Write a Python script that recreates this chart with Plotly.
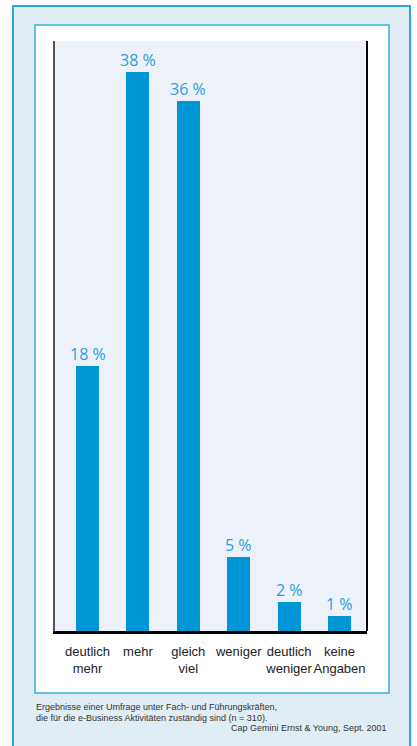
import plotly.graph_objects as go

categories = ["deutlich<br>mehr", "mehr", "gleich<br>viel", "weniger", "deutlich<br>weniger", "keine<br>Angaben"]
values = [18, 38, 36, 5, 2, 1]
value_labels = [f"{v} %" for v in values]
footnote_lines = [
    "Ergebnisse einer Umfrage unter Fach- und Führungskräften,",
    "die für die e-Business Aktivitäten zuständig sind (n = 310).",
]
source = "Cap Gemini Ernst & Young, Sept. 2001"

W, H = 417, 746
L, R, T, B = 55, 367, 41, 631


def X(px):
    return (px - L) / (R - L)


def Y(py):
    return (B - py) / (B - T)


fig = go.Figure(
    go.Bar(
        x=list(range(len(categories))),
        y=values,
        width=0.456,
        marker=dict(color="#0096d6", line=dict(width=0)),
        hoverinfo="skip",
    )
)

annotations = []
for i, (v, lab) in enumerate(zip(values, value_labels)):
    annotations.append(dict(
        x=i, y=v, xref="x", yref="y", text=lab, showarrow=False,
        xanchor="center", yanchor="bottom", yshift=-1,
        font=dict(family="Open Sans", size=16, color="#2a9edb")))

shapes = [
    # outer light-blue frame
    dict(type="rect", xref="paper", yref="paper", layer="below",
         x0=X(13), x1=X(410), y0=Y(775), y1=Y(6),
         fillcolor="#e1edf5", line=dict(color="#2aa6dc", width=2)),
    # inner white panel
    dict(type="rect", xref="paper", yref="paper", layer="below",
         x0=X(35), x1=X(389), y0=Y(693), y1=Y(25),
         fillcolor="#ffffff", line=dict(color="#3aaee0", width=1.5)),
    # plot area background
    dict(type="rect", xref="paper", yref="paper", layer="below",
         x0=0, x1=1, y0=0, y1=1,
         fillcolor="#edf2fa", line=dict(width=0)),
    # right border line of plot area
    dict(type="line", xref="paper", yref="paper", layer="above",
         x0=1, x1=1, y0=0, y1=1, line=dict(color="#000000", width=2)),
]

for i, line in enumerate(footnote_lines):
    annotations.append(dict(
        xref="paper", yref="paper", x=X(34), y=Y(707 + i * 11),
        xanchor="left", yanchor="middle", showarrow=False, text=line,
        font=dict(family="Liberation Sans", size=9, color="#333333")))
annotations.append(dict(
    xref="paper", yref="paper", x=X(389), y=Y(728),
    xanchor="right", yanchor="middle", showarrow=False, text=source,
    font=dict(family="Liberation Sans", size=9, color="#333333")))

fig.update_layout(
    width=W, height=H,
    margin=dict(l=L, r=W - R, t=T, b=H - B, pad=0),
    paper_bgcolor="#ffffff",
    plot_bgcolor="rgba(0,0,0,0)",
    showlegend=False,
    bargap=0,
    shapes=shapes,
    annotations=annotations,
    xaxis=dict(
        range=[-0.645, 5.545],
        tickmode="array",
        tickvals=list(range(len(categories))),
        ticktext=categories,
        tickangle=0,
        ticks="",
        ticklabelstandoff=6,
        showgrid=False,
        zeroline=False,
        showline=True,
        linecolor="#000000",
        linewidth=3,
        tickfont=dict(family="Liberation Sans", size=13, color="#222222"),
        fixedrange=True,
    ),
    yaxis=dict(
        range=[0, 40.1],
        showticklabels=False,
        ticks="",
        showgrid=False,
        zeroline=False,
        showline=True,
        linecolor="#555555",
        linewidth=2,
        fixedrange=True,
    ),
)

fig.write_html("out.html")
